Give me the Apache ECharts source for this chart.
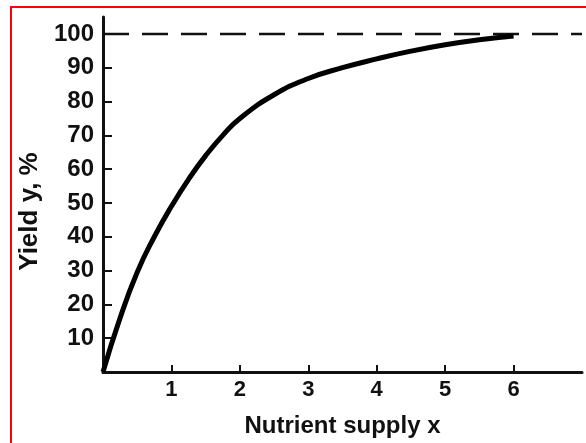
<!DOCTYPE html>
<html>
<head>
<meta charset="utf-8">
<script src="https://cdn.jsdelivr.net/npm/echarts@6/dist/echarts.min.js"></script>
<style>
  html, body { margin: 0; padding: 0; background: #fff; }
  #chart { width: 586px; height: 443px; }
</style>
</head>
<body>
<div id="chart"></div>
<script>
// values
const supplyX = [0, 0.25, 0.5, 0.75, 1, 1.25, 1.5, 1.75, 2, 2.5, 3, 3.5, 4, 4.5, 5, 5.5, 6]
const yieldY = [0, 16, 29.5, 40, 49, 57, 64, 70, 75, 82, 86.8, 90, 92.6, 94.9, 96.8, 98.3, 99.4]
const maxYield = 100
const xTicks = [1, 2, 3, 4, 5, 6]
const yTicks = [10, 20, 30, 40, 50, 60, 70, 80, 90, 100]

const curve = supplyX.map((x, i) => [x, yieldY[i]])
const asymptote = [[0, maxYield], [7, maxYield]]

const font = 'Liberation Sans'
const ink = '#111'

const chart = echarts.init(document.getElementById('chart'))

chart.setOption({
  backgroundColor: '#fff',
  animation: false,
  grid: { left: 103, right: 4, top: 17, bottom: 68 },
  xAxis: {
    type: 'value',
    min: 0,
    max: 7,
    name: 'Nutrient supply x',
    nameLocation: 'middle',
    nameGap: 42,
    nameTextStyle: { fontFamily: font, fontWeight: 'bold', fontSize: 24, color: ink },
    splitLine: { show: false },
    axisLine: { lineStyle: { color: ink, width: 3 } },
    axisTick: { inside: true, length: 7, customValues: xTicks, lineStyle: { color: ink, width: 2 } },
    axisLabel: { customValues: xTicks, margin: 7, fontFamily: font, fontWeight: 'bold', fontSize: 22, color: ink }
  },
  yAxis: {
    type: 'value',
    min: 0,
    max: 105,
    name: 'Yield y, %',
    nameLocation: 'middle',
    nameGap: 60,
    nameTextStyle: { fontFamily: font, fontWeight: 'bold', fontSize: 26, color: ink, padding: [0, 34, 0, 0] },
    splitLine: { show: false },
    axisLine: { lineStyle: { color: ink, width: 3 } },
    axisTick: { inside: true, length: 9, customValues: yTicks, lineStyle: { color: ink, width: 2 } },
    axisLabel: { customValues: yTicks, margin: 9, fontFamily: font, fontWeight: 'bold', fontSize: 24, color: ink }
  },
  graphic: [{
    type: 'rect',
    shape: { x: 11, y: 7, width: 620, height: 480 },
    style: { fill: 'none', stroke: '#ff0000', lineWidth: 2 },
    silent: true
  }],
  series: [
    {
      type: 'line',
      data: asymptote,
      symbol: 'none',
      lineStyle: { color: ink, width: 2.5, type: [26, 13] }
    },
    {
      type: 'line',
      data: curve,
      smooth: true,
      symbol: 'none',
      lineStyle: { color: '#000', width: 5 }
    }
  ]
})
</script>
</body>
</html>
